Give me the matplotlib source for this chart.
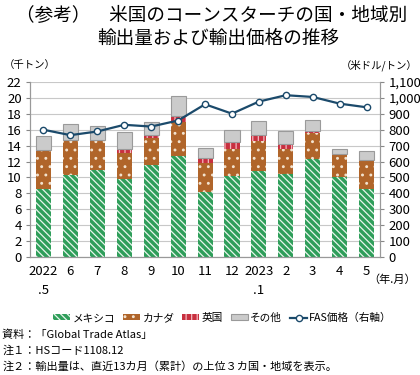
import matplotlib
matplotlib.use("Agg")
import matplotlib.pyplot as plt
import numpy as np

plt.rcParams['font.family'] = ['Noto Sans CJK JP', 'DejaVu Sans']
plt.rcParams['hatch.linewidth'] = 0.9

labels = ['2022\n.5', '6', '7', '8', '9', '10', '11', '12', '2023\n.1', '2', '3', '4', '5']
mexico = [8.5, 10.35, 10.94, 9.8, 11.57, 12.7, 8.2, 10.19, 10.82, 10.44, 12.3, 10.06, 8.5]
canada = [4.88, 4.29, 3.70, 3.24, 3.36, 4.25, 3.58, 3.41, 3.75, 3.12, 3.3, 2.78, 3.63]
uk = [0.05, 0.06, 0.06, 0.55, 0.38, 0.80, 0.68, 0.80, 0.76, 0.59, 0.28, 0.05, 0.05]
other = [1.8, 2.04, 1.83, 2.14, 1.69, 2.44, 1.26, 1.56, 1.72, 1.68, 1.38, 0.75, 1.12]
fas = [800, 766, 789, 831, 820, 858, 960, 901, 977, 1017, 1006, 964, 941]

fig = plt.figure(figsize=(4.2, 3.75), dpi=100)
ax = fig.add_axes([0.0714, 0.3147, 0.8336, 0.4666])
ax2 = ax.twinx()

x = np.arange(len(labels))
w = 0.56
b1 = np.array(mexico)
b2 = b1 + np.array(canada)
b3 = b2 + np.array(uk)

ax.set_axisbelow(True)
bm = ax.bar(x, mexico, w, color='#2f9e5a', edgecolor='#e8f5ec', hatch='\\\\\\\\\\', linewidth=0, label='メキシコ', zorder=2)
bc = ax.bar(x, canada, w, bottom=b1, color='#b0652a', edgecolor='#f3e3cf', hatch='..', linewidth=0, label='カナダ', zorder=2)
bu = ax.bar(x, uk, w, bottom=b2, color='#c8303f', edgecolor='#f2b8c0', hatch='|||', linewidth=0, label='英国', zorder=2)
bo = ax.bar(x, other, w, bottom=b3, color='#cbcbcb', edgecolor='#9a9a9a', linewidth=0.8, label='その他', zorder=2)

ln, = ax2.plot(x, fas, color='#1b4a6b', lw=1.6, marker='o', ms=4.5, mfc='white', mec='#1b4a6b', mew=1.0, label='FAS価格（右軸）', zorder=5)

ax.set_ylim(0, 22)
ax.set_yticks(np.arange(0, 23, 2))
ax2.set_ylim(0, 1100)
ax2.set_yticks(np.arange(0, 1101, 100))
ax2.set_yticklabels([f'{v:,}' for v in range(0, 1101, 100)])
ax.set_xlim(-0.5, len(labels) - 0.5)
ax.set_xticks(x)
ax.set_xticklabels(labels, fontsize=9.5, linespacing=1.6, va='top')
ax.tick_params(axis='x', length=0, pad=6)
ax.tick_params(axis='y', labelsize=9.5, length=3, color='#888888', pad=3)
ax2.tick_params(axis='y', labelsize=9.5, length=3, color='#888888', pad=3)
ax.grid(axis='y', color='#c8c8c8', lw=0.8)
for a in (ax, ax2):
    a.spines['top'].set_visible(False)
    for s in ('left', 'right', 'bottom'):
        a.spines[s].set_color('#999999')
        a.spines[s].set_linewidth(0.8)
ax.set_zorder(ax2.get_zorder() - 1)
ax2.patch.set_visible(False)
ax.patch.set_visible(True)

fig.text(0.505, 0.958, '（参考）　米国のコーンスターチの国・地域別', ha='center', va='center', fontsize=13.4)
fig.text(0.52, 0.897, '輸出量および輸出価格の推移', ha='center', va='center', fontsize=13.4)
fig.text(0.01, 0.827, '（千トン）', ha='left', va='center', fontsize=7.5)
fig.text(0.995, 0.827, '（米ドル/トン）', ha='right', va='center', fontsize=7.5)
fig.text(0.99, 0.253, '（年.月）', ha='right', va='center', fontsize=8)

fig.legend(handles=[bm, bc, bu, bo, ln], loc='center', bbox_to_anchor=(0.53, 0.152), ncol=5,
           frameon=False, fontsize=7.7, handlelength=1.6, handleheight=0.5, handletextpad=0.2,
           columnspacing=0.75)

fig.text(0.005, 0.107, '資料：「Global Trade Atlas」', ha='left', va='center', fontsize=8)
fig.text(0.005, 0.064, '注１：HSコード1108.12', ha='left', va='center', fontsize=8)
fig.text(0.005, 0.022, '注２：輸出量は、直近13カ月（累計）の上位３カ国・地域を表示。', ha='left', va='center', fontsize=8)

fig.savefig('out.png', dpi=100)
